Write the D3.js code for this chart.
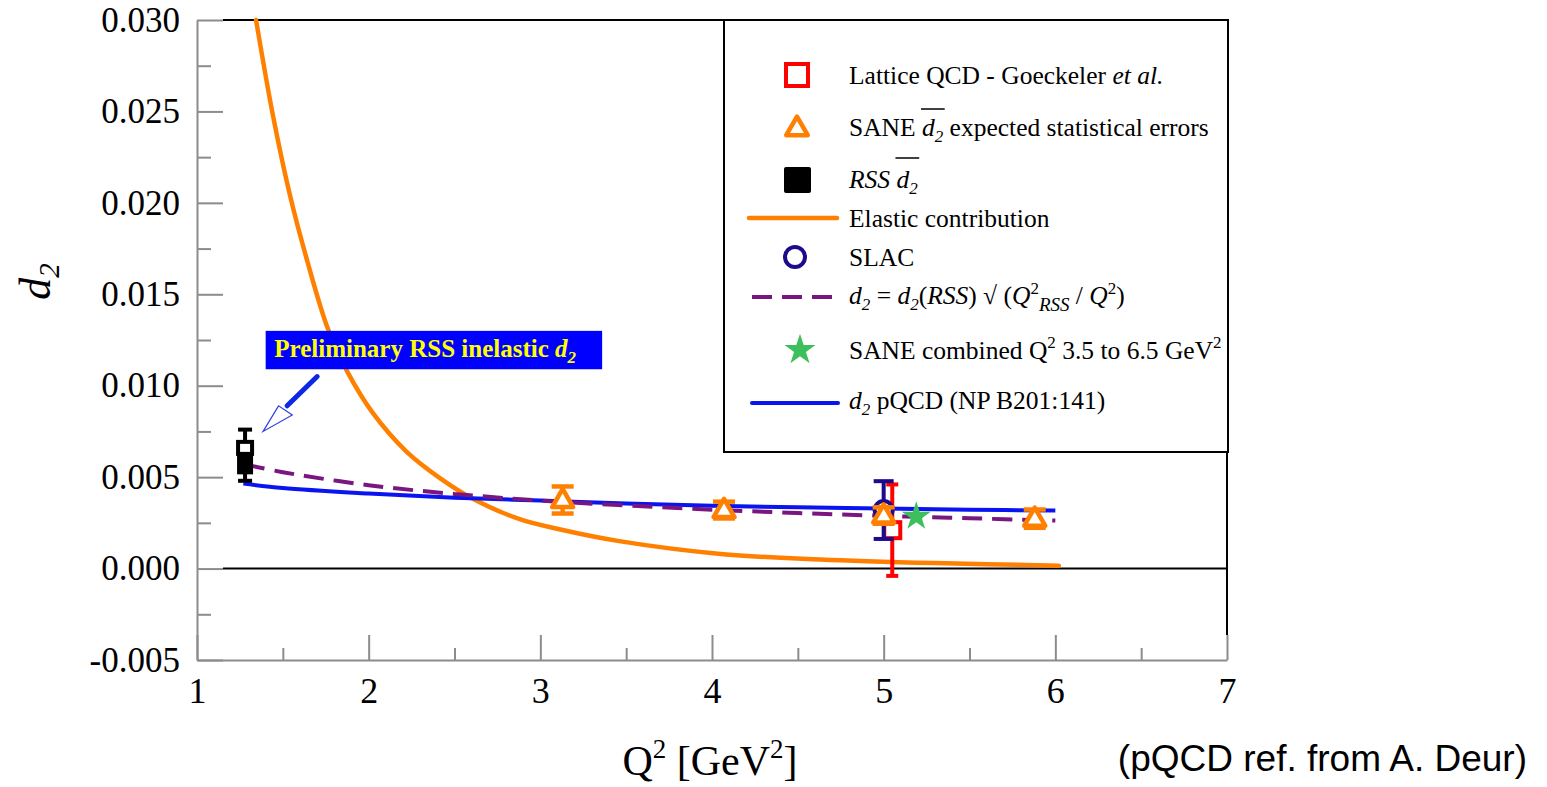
<!DOCTYPE html>
<html>
<head>
<meta charset="utf-8">
<script src="https://cdn.jsdelivr.net/npm/d3@7"></script>
<style>
  html, body { margin: 0; padding: 0; background: #fff; }
  svg { display: block; }
  text { font-family: "Liberation Serif", "Times New Roman", serif; }
</style>
</head>
<body>
<svg id="chart" width="1547" height="787"></svg>
<script>
// ---- axis ticks ----
const xTicks = [1, 2, 3, 4, 5, 6, 7];
const xMinorTicks = [1.5, 2.5, 3.5, 4.5, 5.5, 6.5];
const yTicks = [-0.005, 0.000, 0.005, 0.010, 0.015, 0.020, 0.025, 0.030];
const yTickLabels = ["-0.005", "0.000", "0.005", "0.010", "0.015", "0.020", "0.025", "0.030"];
const yMinorTicks = [-0.0025, 0.0025, 0.0075, 0.0125, 0.0175, 0.0225, 0.0275];

// ---- measurements ----
// SANE expected statistical errors
const saneQ2 = [3.13, 4.07, 5.0, 5.88];
const saneD2 = [0.00375, 0.0032, 0.0029, 0.00273];
const saneErr = [0.00074, 0.00046, 0.00045, 0.0005];

// RSS d2 (filled) and preliminary RSS inelastic d2 (open)
const rssQ2 = [1.28];
const rssD2 = [0.0057];
const rssErr = [0.0009];
const rssPrelimQ2 = [1.28];
const rssPrelimD2 = [0.0066];
const rssPrelimErr = [0.0010];

// SLAC
const slacQ2 = [5.0];
const slacD2 = [0.0032];
const slacErr = [0.00158];

// Lattice QCD (Goeckeler et al.)
const latticeQ2 = [5.05];
const latticeD2 = [0.0021];
const latticeErr = [0.0025];

// SANE combined
const combinedQ2 = [5.19];
const combinedD2 = [0.00285];

// ---- curves ----
const elasticQ2 = [1.344, 1.444, 1.542, 1.64, 1.763, 1.874, 2.025, 2.22, 2.415, 2.61, 2.88, 3.11, 3.46, 4.05, 4.63, 5.3, 6.02];
const elasticD2 = [0.030, 0.0247, 0.0204, 0.0169, 0.0131, 0.0108, 0.0085, 0.0064, 0.00495, 0.0038, 0.0027, 0.00215, 0.0015, 0.0008, 0.0005, 0.0003, 0.00016];

const pqcdQ2 = [1.27, 1.5, 2.0, 2.5, 3.0, 3.5, 4.0, 4.5, 5.0, 5.5, 6.0];
const pqcdD2 = [0.00465, 0.0044, 0.0041, 0.00387, 0.00372, 0.00356, 0.00344, 0.00335, 0.00328, 0.00322, 0.00317];

const scaledQ2 = [1.28, 1.5, 2.0, 2.5, 3.0, 3.5, 4.0, 4.5, 5.0, 5.5, 6.0];
const scaledD2 = [0.0057, 0.00527, 0.00456, 0.00408, 0.00372, 0.00345, 0.00322, 0.00304, 0.00288, 0.00275, 0.00263];

// ---- colours ----
const ORANGE = "#ff8000";
const BLUE = "#0a14f0";
const PURPLE = "#7a1680";
const RED = "#ff0000";
const NAVY = "#1c0c8c";
const GREEN = "#3cbf5c";
const AXIS_GREY = "#8c8c8c";

const svg = d3.select("#chart");
const x = d3.scaleLinear().domain([1, 7]).range([197, 1227]);
const y = d3.scaleLinear().domain([-0.005, 0.030]).range([660, 20]);

const zip = (xs, ys, es) => xs.map((q, i) => ({ q, d: ys[i], e: es ? es[i] : 0 }));

// ---- frame: top, right and zero line ----
svg.append("line").attr("x1", x(1) + 26).attr("x2", x(7)).attr("y1", y(0.030)).attr("y2", y(0.030))
  .attr("stroke", "#000").attr("stroke-width", 2);
svg.append("line").attr("x1", x(7)).attr("x2", x(7)).attr("y1", y(0.030)).attr("y2", y(-0.005) - 25)
  .attr("stroke", "#000").attr("stroke-width", 2);
svg.append("line").attr("x1", x(1) + 26).attr("x2", x(7)).attr("y1", y(0)).attr("y2", y(0))
  .attr("stroke", "#000").attr("stroke-width", 2);

// ---- axes ----
const yAxis = d3.axisLeft(y).tickValues(yTicks)
  .tickFormat((d, i) => yTickLabels[i])
  .tickSizeInner(-26).tickSizeOuter(0).tickPadding(17);
const gy = svg.append("g").attr("transform", `translate(${x(1)},0)`).call(yAxis);
gy.selectAll("text").style("font-size", "35px").style("font-family", '"Liberation Serif", serif').attr("fill", "#000");
const gyMinor = svg.append("g").attr("transform", `translate(${x(1)},0)`)
  .call(d3.axisLeft(y).tickValues(yMinorTicks).tickFormat("").tickSizeInner(-14).tickSizeOuter(0));
gyMinor.select(".domain").remove();

const xAxis = d3.axisBottom(x).tickValues(xTicks).tickFormat(d3.format("d"))
  .tickSizeInner(-25).tickSizeOuter(0).tickPadding(17);
const gx = svg.append("g").attr("transform", `translate(0,${y(-0.005)})`).call(xAxis);
gx.selectAll("text").style("font-size", "36px").style("font-family", '"Liberation Serif", serif').attr("fill", "#000");
const gxMinor = svg.append("g").attr("transform", `translate(0,${y(-0.005)})`)
  .call(d3.axisBottom(x).tickValues(xMinorTicks).tickFormat("").tickSizeInner(-12).tickSizeOuter(0));
gxMinor.select(".domain").remove();

svg.selectAll(".domain").attr("stroke", AXIS_GREY).attr("stroke-width", 2);
svg.selectAll(".tick line").attr("stroke", AXIS_GREY).attr("stroke-width", 2);

// ---- axis titles ----
const yTitle = svg.append("text")
  .attr("transform", `translate(50,${y(0.0157)}) rotate(-90)`)
  .attr("text-anchor", "middle")
  .style("font-size", "44px");
yTitle.append("tspan").style("font-style", "italic").text("d");
yTitle.append("tspan").attr("dy", 9).style("font-size", "29px").style("font-style", "italic").text("2");

const xTitle = svg.append("text")
  .attr("x", 710).attr("y", 775).attr("text-anchor", "middle")
  .style("font-size", "42px");
xTitle.append("tspan").text("Q");
xTitle.append("tspan").attr("dy", -17).style("font-size", "27px").text("2");
xTitle.append("tspan").attr("dy", 17).text(" [GeV");
xTitle.append("tspan").attr("dy", -17).style("font-size", "27px").text("2");
xTitle.append("tspan").attr("dy", 17).text("]");

svg.append("text").attr("x", 1527).attr("y", 771).attr("text-anchor", "end")
  .style("font-family", '"Liberation Sans", Arial, sans-serif').style("font-size", "37px")
  .text("(pQCD ref. from A. Deur)");

// ---- curves ----
const line = d3.line().x(d => x(d.q)).y(d => y(d.d)).curve(d3.curveCatmullRom.alpha(0.5));

svg.append("path").datum(zip(elasticQ2, elasticD2))
  .attr("d", line).attr("fill", "none").attr("stroke", ORANGE).attr("stroke-width", 4.5)
  .attr("stroke-linecap", "round");
svg.append("path").datum(zip(pqcdQ2, pqcdD2))
  .attr("d", line).attr("fill", "none").attr("stroke", BLUE).attr("stroke-width", 4);
svg.append("path").datum(zip(scaledQ2, scaledD2))
  .attr("d", line).attr("fill", "none").attr("stroke", PURPLE).attr("stroke-width", 4)
  .attr("stroke-dasharray", "20,10");

// ---- error bars ----
function errorBars(data, color, capW, width, dx = 0) {
  const g = svg.append("g").attr("stroke", color).attr("stroke-width", width).attr("fill", "none");
  data.forEach(p => {
    const cx = x(p.q) + dx;
    g.append("line").attr("x1", cx).attr("x2", cx).attr("y1", y(p.d + p.e)).attr("y2", y(p.d - p.e));
    g.append("line").attr("x1", cx - capW / 2).attr("x2", cx + capW / 2).attr("y1", y(p.d + p.e)).attr("y2", y(p.d + p.e));
    g.append("line").attr("x1", cx - capW / 2).attr("x2", cx + capW / 2).attr("y1", y(p.d - p.e)).attr("y2", y(p.d - p.e));
  });
}

// Lattice QCD
const lattice = zip(latticeQ2, latticeD2, latticeErr);
errorBars(lattice, RED, 12, 4);
svg.selectAll(null).data(lattice).join("rect")
  .attr("x", d => x(d.q) - 8).attr("y", d => y(d.d) - 8).attr("width", 16).attr("height", 16)
  .attr("fill", "#fff").attr("stroke", RED).attr("stroke-width", 4);

// SLAC
const slac = zip(slacQ2, slacD2, slacErr);
errorBars(slac, NAVY, 20, 4);
svg.selectAll(null).data(slac).join("circle")
  .attr("cx", d => x(d.q)).attr("cy", d => y(d.d)).attr("r", 9)
  .attr("fill", "#fff").attr("stroke", NAVY).attr("stroke-width", 4);

// SANE projections
const sane = zip(saneQ2, saneD2, saneErr);
errorBars(sane, ORANGE, 22, 4.5);
const tri = d3.symbol().type(d3.symbolTriangle).size(190);
svg.selectAll(null).data(sane).join("path")
  .attr("transform", d => `translate(${x(d.q)},${y(d.d) + 1})`)
  .attr("d", tri).attr("fill", "#fff").attr("stroke", ORANGE).attr("stroke-width", 4.5)
  .attr("stroke-linejoin", "round");

// SANE combined
svg.selectAll(null).data(zip(combinedQ2, combinedD2)).join("path")
  .attr("transform", d => `translate(${x(d.q)},${y(d.d)})`)
  .attr("d", d3.symbol().type(d3.symbolStar).size(260)).attr("fill", GREEN);

// RSS
const rss = zip(rssQ2, rssD2, rssErr);
const rssPre = zip(rssPrelimQ2, rssPrelimD2, rssPrelimErr);
errorBars(rss, "#000", 14, 4);
errorBars(rssPre, "#000", 14, 4);
svg.selectAll(null).data(rss).join("rect")
  .attr("x", d => x(d.q) - 8).attr("y", d => y(d.d) - 10).attr("width", 16).attr("height", 20)
  .attr("fill", "#000");
svg.selectAll(null).data(rssPre).join("rect")
  .attr("x", d => x(d.q) - 7).attr("y", d => y(d.d) - 6).attr("width", 14).attr("height", 12)
  .attr("fill", "#fff").attr("stroke", "#000").attr("stroke-width", 4);

// ---- annotation for the preliminary RSS point ----
const ann = svg.append("g");
ann.append("rect").attr("x", x(1.4)).attr("y", y(0.0130)).attr("width", x(3.36) - x(1.4))
  .attr("height", y(0.0109) - y(0.0130)).attr("fill", "#0000ff");
const annText = ann.append("text").attr("x", x(1.45)).attr("y", y(0.01155))
  .attr("fill", "#ffff00").style("font-weight", "bold").style("font-size", "25px");
annText.append("tspan").text("Preliminary RSS inelastic  ");
annText.append("tspan").style("font-style", "italic").text("d");
annText.append("tspan").attr("dy", 6).style("font-size", "17px").style("font-style", "italic").text("2");
ann.append("line").attr("x1", x(1.70)).attr("y1", y(0.0105)).attr("x2", x(1.525)).attr("y2", y(0.0089))
  .attr("stroke", "#0a28e6").attr("stroke-width", 5).attr("stroke-linecap", "round");
ann.append("path")
  .attr("d", `M${x(1.385)},${y(0.0075)} L${x(1.475)},${y(0.0089)} L${x(1.555)},${y(0.0084)} Z`)
  .attr("fill", "#fff").attr("stroke", "#3040e0").attr("stroke-width", 1.2);

// ---- legend ----
const lg = svg.append("g");
lg.append("rect").attr("x", 724).attr("y", 20).attr("width", 504).attr("height", 432)
  .attr("fill", "#fff").attr("stroke", "#000").attr("stroke-width", 2);

const LX = 849;
function richText(yPos, parts) {
  const t = lg.append("text").attr("x", LX).attr("y", yPos).style("font-size", "25.5px").attr("fill", "#000");
  const overs = [];
  parts.forEach(p => {
    const s = t.append("tspan").text(p.t);
    if (p.i) s.style("font-style", "italic");
    if (p.dy) s.attr("dy", p.dy);
    if (p.dx) s.attr("dx", p.dx);
    if (p.fs) s.style("font-size", p.fs + "px");
    if (p.over) overs.push(s.node());
  });
  return { t, overs };
}
function overline(nodes, yLine) {
  const boxes = nodes.map(n => n.getBBox());
  const x0 = d3.min(boxes, b => b.x), x1 = d3.max(boxes, b => b.x + b.width);
  lg.append("line").attr("x1", x0 - 1).attr("x2", x1 + 1).attr("y1", yLine).attr("y2", yLine)
    .attr("stroke", "#000").attr("stroke-width", 1.5);
}

// 1 Lattice QCD
lg.append("rect").attr("x", 786).attr("y", 64).attr("width", 22).attr("height", 22)
  .attr("fill", "#fff").attr("stroke", RED).attr("stroke-width", 4);
richText(84, [{ t: "Lattice QCD - Goeckeler  " }, { t: "et al.", i: true }]);

// 2 SANE triangle
lg.append("path").attr("transform", "translate(797,129)")
  .attr("d", d3.symbol().type(d3.symbolTriangle).size(200))
  .attr("fill", "#fff").attr("stroke", ORANGE).attr("stroke-width", 4.5).attr("stroke-linejoin", "round");
const e2 = richText(136, [{ t: "SANE " }, { t: "d", i: true, over: true }, { t: "2", i: true, dy: 6, fs: 17, over: true }, { t: " expected statistical errors", dy: -6 }]);
overline(e2.overs, 109);

// 3 RSS
lg.append("rect").attr("x", 784).attr("y", 167).attr("width", 27).attr("height", 26).attr("rx", 2)
  .attr("fill", "#000");
const e3 = richText(188, [{ t: " RSS  ", i: true }, { t: "d", i: true, over: true }, { t: "2", i: true, dy: 6, fs: 17, over: true }]);
overline(e3.overs, 158);

// 4 Elastic
lg.append("line").attr("x1", 749).attr("x2", 837).attr("y1", 218).attr("y2", 218)
  .attr("stroke", ORANGE).attr("stroke-width", 4.5).attr("stroke-linecap", "round");
richText(227, [{ t: "Elastic contribution" }]);

// 5 SLAC
lg.append("circle").attr("cx", 795).attr("cy", 257).attr("r", 10)
  .attr("fill", "#fff").attr("stroke", NAVY).attr("stroke-width", 4);
richText(266, [{ t: "SLAC" }]);

// 6 scaled RSS
lg.append("line").attr("x1", 752).attr("x2", 840).attr("y1", 297).attr("y2", 297)
  .attr("stroke", PURPLE).attr("stroke-width", 4).attr("stroke-dasharray", "20,10");
richText(304, [
  { t: "d", i: true }, { t: "2", i: true, dy: 6, fs: 17 }, { t: " = ", dy: -6 },
  { t: "d", i: true }, { t: "2", i: true, dy: 6, fs: 17 }, { t: "(", dy: -6 }, { t: "RSS", i: true },
  { t: ") \u221A (" }, { t: "Q", i: true }, { t: "2", fs: 17, dy: -10 }, { t: "RSS", i: true, fs: 19, dy: 17 },
  { t: " / ", dy: -7 }, { t: "Q", i: true }, { t: "2", fs: 17, dy: -10 }, { t: ")", dy: 10 }
]);

// 7 SANE combined
lg.append("path").attr("transform", "translate(800,350)")
  .attr("d", d3.symbol().type(d3.symbolStar).size(300)).attr("fill", GREEN);
richText(359, [
  { t: "SANE combined Q" }, { t: "2", fs: 17, dy: -11 }, { t: " 3.5 to 6.5 GeV", dy: 11 },
  { t: "2", fs: 17, dy: -11 }
]);

// 8 pQCD
lg.append("line").attr("x1", 752).attr("x2", 838).attr("y1", 403).attr("y2", 403)
  .attr("stroke", BLUE).attr("stroke-width", 4).attr("stroke-linecap", "round");
richText(409, [{ t: "d", i: true }, { t: "2", i: true, dy: 6, fs: 17 }, { t: " pQCD (NP B201:141)", dy: -6 }]);
</script>
</body>
</html>
